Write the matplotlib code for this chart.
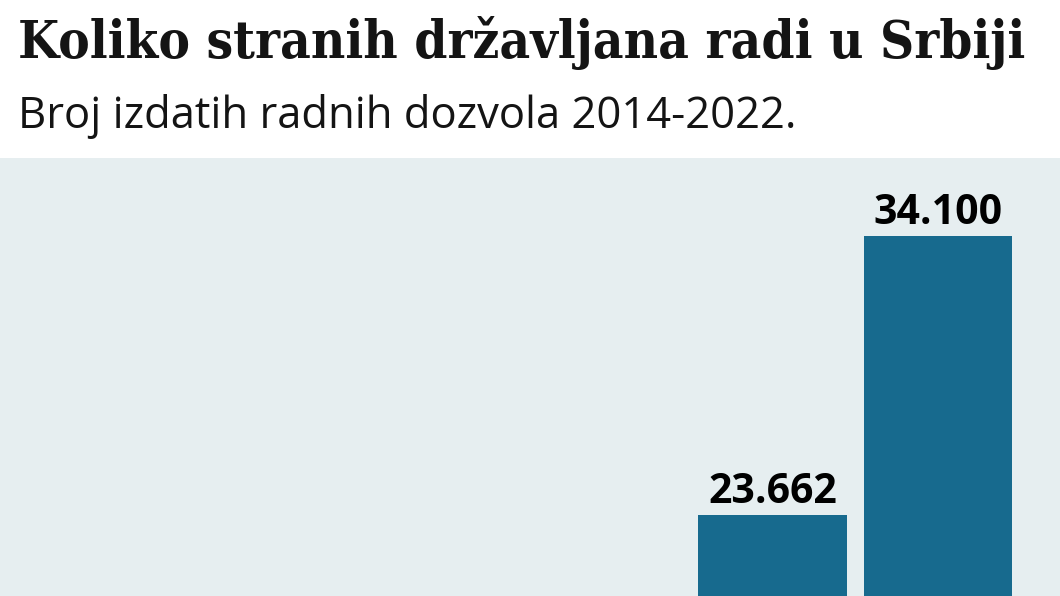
import matplotlib
matplotlib.use("Agg")
import matplotlib.pyplot as plt
from matplotlib.transforms import ScaledTranslation

# ---- data ----
title = "Koliko stranih državljana radi u Srbiji"
subtitle = "Broj izdatih radnih dozvola 2014-2022."
bar_values = [23662, 34100]
bar_labels = ["23.662", "34.100"]

# ---- style ----
BAR_COLOR = "#176a8e"
PANEL_COLOR = "#e6eef0"
TEXT_COLOR = "#141414"
W, H = 1060, 596
DPI = 100

fig = plt.figure(figsize=(W / DPI, H / DPI), dpi=DPI)
fig.patch.set_facecolor("white")
renderer = fig.canvas.get_renderer()


def fit_text(x, y, s, target_w, **kw):
    t = fig.text(x, y, s, **kw)
    for _ in range(3):
        w = t.get_window_extent(renderer=renderer).width
        t.set_fontsize(t.get_fontsize() * target_w / w)
    return t


# title and subtitle (baseline positions in pixels from top)
fit_text(18 / W, 1 - 58 / H, title, 1005, fontsize=36, fontweight="bold",
         family="DejaVu Serif", fontstretch="condensed", color=TEXT_COLOR,
         va="baseline", ha="left")
fit_text(18 / W, 1 - 128 / H, subtitle, 779, fontsize=24,
         family="Open Sans", color=TEXT_COLOR, va="baseline", ha="left")

# plot panel
panel_top = 158
ax = fig.add_axes([0, 0, 1, (H - panel_top) / H])
ax.set_facecolor(PANEL_COLOR)
for sp in ax.spines.values():
    sp.set_visible(False)
ax.set_xticks([])
ax.set_yticks([])

x = list(range(len(bar_values)))
ax.bar(x, bar_values, width=0.898, color=BAR_COLOR, linewidth=0)

# scales chosen so that the view matches the cropped reference
step_px = 165.2
c0_px = 772.5
ax.set_xlim(-c0_px / step_px, (W - c0_px) / step_px)
px_per_unit = (515.3 - 236.0) / (bar_values[1] - bar_values[0])
ymin = bar_values[0] - (596 - 515.3) / px_per_unit
ymax = bar_values[1] + (236.0 - panel_top) / px_per_unit
ax.set_ylim(ymin, ymax)

offset = ScaledTranslation(0, 12 / DPI, fig.dpi_scale_trans)
for xi, v, lab in zip(x, bar_values, bar_labels):
    t = ax.text(xi, v, lab, ha="center", va="baseline", fontweight="bold",
                family="Open Sans", fontsize=22, color="black",
                transform=ax.transData + offset)
    for _ in range(3):
        w = t.get_window_extent(renderer=renderer).width
        t.set_fontsize(t.get_fontsize() * 129 / w)

fig.savefig("out.png", dpi=DPI)
